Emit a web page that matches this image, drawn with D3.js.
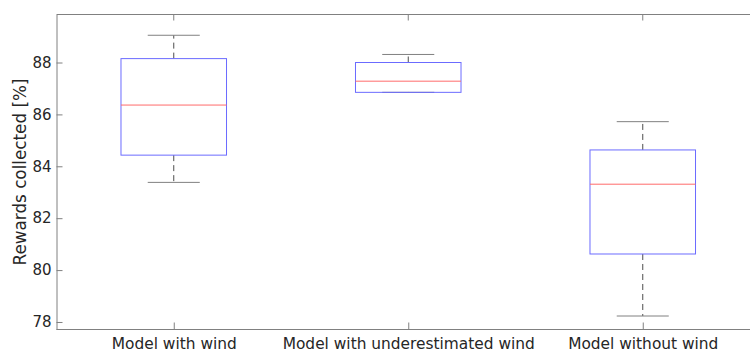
<!DOCTYPE html>
<html>
<head>
<meta charset="utf-8">
<script src="https://cdn.jsdelivr.net/npm/d3@7"></script>
<style>
  html, body { margin: 0; padding: 0; background: #fff; }
  svg { display: block; }
  svg text { font-family: "DejaVu Sans", sans-serif; }
</style>
</head>
<body>
<svg id="chart" width="750" height="352"></svg>
<script>
// Box plot statistics for each model (rewards collected, %)
const categories = ["Model with wind", "Model with underestimated wind", "Model without wind"];
const whiskerLow  = [83.38, 86.85, 78.23];
const quartile1   = [84.43, 86.85, 80.62];
const medians     = [86.36, 87.28, 83.31];
const quartile3   = [88.15, 88.00, 84.63];
const whiskerHigh = [89.05, 88.31, 85.72];
const yTicks = [78, 80, 82, 84, 86, 88];

const boxes = categories.map((c, i) => ({
  name: c, pos: i + 1,
  lo: whiskerLow[i], q1: quartile1[i], med: medians[i], q3: quartile3[i], hi: whiskerHigh[i]
}));

const svg = d3.select("#chart");
const plotLeft = 56.5, plotTop = 14.5, plotBottom = 329.5, step = 234.5;

const x = d3.scaleLinear().domain([0.5, 3.5]).range([plotLeft, plotLeft + 3 * step]);
const y = d3.scaleLinear().domain([77.71, 89.85]).range([plotBottom, plotTop]);

const axisColor = "#808080";
const textColor = "#262626";
const fontFamily = "DejaVu Sans, sans-serif";

// Top frame line
svg.append("line").attr("x1", plotLeft).attr("x2", 750).attr("y1", plotTop).attr("y2", plotTop)
  .attr("stroke", axisColor).attr("stroke-width", 1);

// Y axis with inward ticks
const yAxis = d3.axisLeft(y).tickValues(yTicks).tickSizeInner(-6).tickSizeOuter(0).tickPadding(5);
const gy = svg.append("g").attr("transform", `translate(${plotLeft},0)`).call(yAxis)
  .attr("font-family", fontFamily).attr("font-size", 15);
gy.select(".domain").attr("stroke", axisColor);
gy.selectAll(".tick line").attr("stroke", axisColor);
gy.selectAll(".tick text").attr("fill", textColor);

// X axis with inward ticks at each category
const xAxis = d3.axisBottom(x).tickValues([1, 2, 3])
  .tickFormat(d => categories[d - 1]).tickSizeInner(-7).tickSizeOuter(0).tickPadding(9);
const gx = svg.append("g").attr("transform", `translate(0,${plotBottom})`).call(xAxis)
  .attr("font-family", fontFamily).attr("font-size", 15.4);
gx.select(".domain").attr("d", `M${plotLeft},0H750`).attr("stroke", axisColor);
gx.selectAll(".tick line").attr("stroke", axisColor);
gx.selectAll(".tick text").attr("fill", textColor);

// Top ticks
svg.append("g").selectAll("line").data([1, 2, 3]).join("line")
  .attr("x1", d => x(d)).attr("x2", d => x(d))
  .attr("y1", plotTop).attr("y2", plotTop + 6).attr("stroke", axisColor);

// Y axis title
svg.append("text")
  .attr("transform", `translate(26,${(plotTop + plotBottom) / 2}) rotate(-90)`)
  .attr("text-anchor", "middle").attr("fill", textColor)
  .attr("font-family", fontFamily).attr("font-size", 16.8)
  .text("Rewards collected [%]");

const boxHalf = step * 0.225;
const capHalf = step * 0.111;
const g = svg.append("g");

boxes.forEach(b => {
  const cx = x(b.pos);
  // dashed whiskers
  g.append("line").attr("x1", cx).attr("x2", cx).attr("y1", y(b.q3)).attr("y2", y(b.hi))
    .attr("stroke", "#4d4d4d").attr("stroke-dasharray", "6,4");
  g.append("line").attr("x1", cx).attr("x2", cx).attr("y1", y(b.q1)).attr("y2", y(b.lo))
    .attr("stroke", "#4d4d4d").attr("stroke-dasharray", "6,4");
  // whisker caps
  [b.hi, b.lo].forEach(v => {
    g.append("line").attr("x1", cx - capHalf).attr("x2", cx + capHalf)
      .attr("y1", y(v)).attr("y2", y(v)).attr("stroke", "#808080");
  });
  // box
  g.append("rect").attr("x", cx - boxHalf).attr("y", y(b.q3))
    .attr("width", 2 * boxHalf).attr("height", y(b.q1) - y(b.q3))
    .attr("fill", "none").attr("stroke", "#6b6bff");
  // median
  g.append("line").attr("x1", cx - boxHalf).attr("x2", cx + boxHalf)
    .attr("y1", y(b.med)).attr("y2", y(b.med)).attr("stroke", "#ff6b6b");
});
</script>
</body>
</html>
